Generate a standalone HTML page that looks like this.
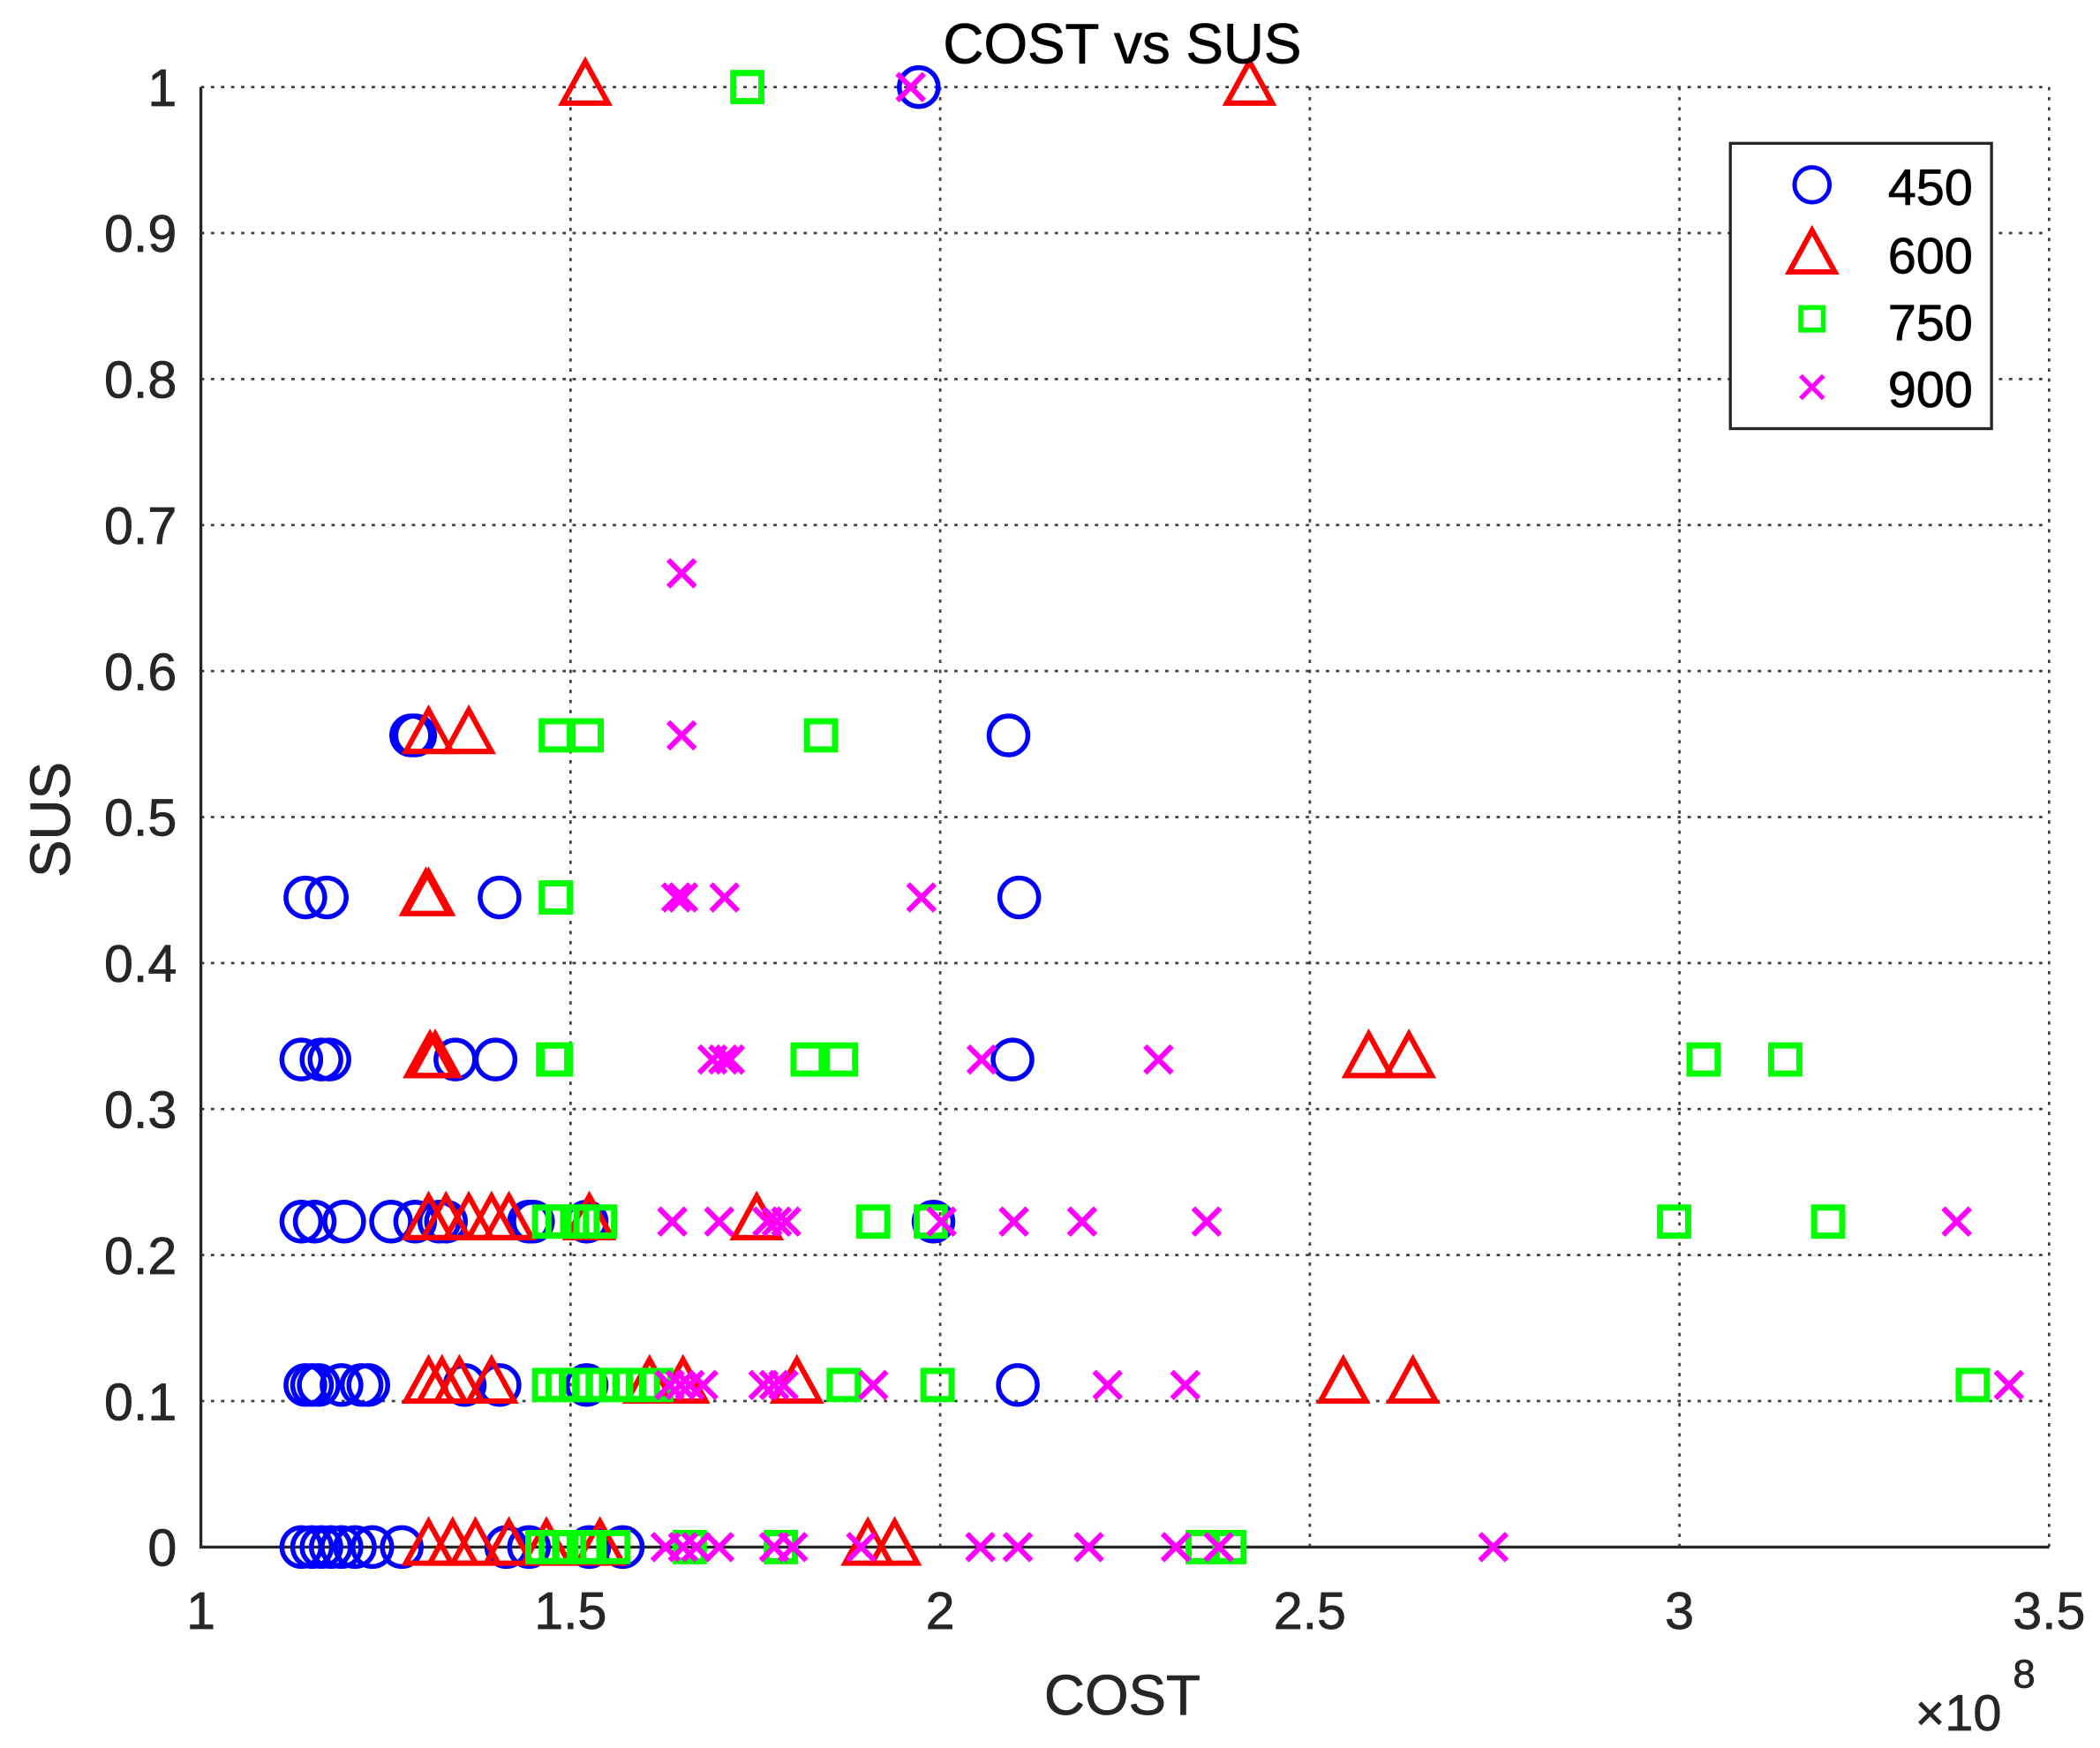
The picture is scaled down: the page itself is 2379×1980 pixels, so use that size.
<!DOCTYPE html>
<html><head><meta charset="utf-8"><style>html,body{margin:0;padding:0;background:#fff}svg{display:block}</style></head>
<body>
<svg width="2379" height="1980" viewBox="0 0 1568 1305" xmlns="http://www.w3.org/2000/svg" xmlns:xlink="http://www.w3.org/1999/xlink" font-family="Liberation Sans, Arial, sans-serif">
<defs>
<circle id="c" cx="0" cy="0" r="14.5" fill="none" stroke="#0000ff" stroke-width="3.6"/>
<path id="t" d="M0 -19 L17 12 L-17 12 Z" fill="none" stroke="#ff0000" stroke-width="4" stroke-linejoin="miter"/>
<rect id="s" x="-10.5" y="-10.5" width="21" height="21" fill="none" stroke="#00ff00" stroke-width="4.6"/>
<path id="x" d="M-10 -10 L10 10 M10 -10 L-10 10" stroke="#ff00ff" stroke-width="4"/>
</defs>
<rect width="1568" height="1305" fill="#fff"/>
<g stroke="#404040" stroke-width="1.8" stroke-dasharray="2.5,5" fill="none">
<line x1="426" y1="65" x2="426" y2="1155"/><line x1="702" y1="65" x2="702" y2="1155"/><line x1="978" y1="65" x2="978" y2="1155"/><line x1="1254" y1="65" x2="1254" y2="1155"/>
<line x1="150" y1="65" x2="1530" y2="65"/><line x1="1530" y1="65" x2="1530" y2="1155"/>
<line x1="150" y1="174" x2="1530" y2="174"/><line x1="150" y1="283" x2="1530" y2="283"/><line x1="150" y1="392" x2="1530" y2="392"/><line x1="150" y1="501" x2="1530" y2="501"/><line x1="150" y1="610" x2="1530" y2="610"/><line x1="150" y1="719" x2="1530" y2="719"/><line x1="150" y1="828" x2="1530" y2="828"/><line x1="150" y1="937" x2="1530" y2="937"/><line x1="150" y1="1046" x2="1530" y2="1046"/>
</g>
<path d="M150 65 V1155 H1530" stroke="#262626" stroke-width="2.2" fill="none"/>
<g>
<use xlink:href="#c" x="686" y="65"/>
<use xlink:href="#c" x="307" y="549"/><use xlink:href="#c" x="310" y="549"/><use xlink:href="#c" x="753" y="549"/>
<use xlink:href="#c" x="228" y="670"/><use xlink:href="#c" x="244" y="670"/><use xlink:href="#c" x="373" y="670"/><use xlink:href="#c" x="761" y="670"/>
<use xlink:href="#c" x="225" y="791"/><use xlink:href="#c" x="240" y="791"/><use xlink:href="#c" x="246" y="791"/><use xlink:href="#c" x="340" y="791"/><use xlink:href="#c" x="370" y="791"/><use xlink:href="#c" x="756" y="791"/>
<use xlink:href="#c" x="225" y="912"/><use xlink:href="#c" x="235" y="912"/><use xlink:href="#c" x="257" y="912"/><use xlink:href="#c" x="292" y="912"/><use xlink:href="#c" x="310" y="912"/><use xlink:href="#c" x="328" y="912"/><use xlink:href="#c" x="333" y="912"/><use xlink:href="#c" x="395" y="912"/><use xlink:href="#c" x="398" y="912"/><use xlink:href="#c" x="438" y="912"/><use xlink:href="#c" x="697" y="912"/>
<use xlink:href="#c" x="228" y="1034"/><use xlink:href="#c" x="233" y="1034"/><use xlink:href="#c" x="238" y="1034"/><use xlink:href="#c" x="255" y="1034"/><use xlink:href="#c" x="270" y="1034"/><use xlink:href="#c" x="275" y="1034"/><use xlink:href="#c" x="347" y="1034"/><use xlink:href="#c" x="373" y="1034"/><use xlink:href="#c" x="438" y="1034"/><use xlink:href="#c" x="760" y="1034"/>
<use xlink:href="#c" x="225" y="1155"/><use xlink:href="#c" x="233" y="1155"/><use xlink:href="#c" x="240" y="1155"/><use xlink:href="#c" x="247" y="1155"/><use xlink:href="#c" x="255" y="1155"/><use xlink:href="#c" x="265" y="1155"/><use xlink:href="#c" x="278" y="1155"/><use xlink:href="#c" x="300" y="1155"/><use xlink:href="#c" x="378" y="1155"/><use xlink:href="#c" x="395" y="1155"/><use xlink:href="#c" x="440" y="1155"/><use xlink:href="#c" x="465" y="1155"/>

<use xlink:href="#t" x="437" y="65"/><use xlink:href="#t" x="933" y="65"/>
<use xlink:href="#t" x="320" y="549"/><use xlink:href="#t" x="350" y="549"/>
<use xlink:href="#t" x="318" y="670"/><use xlink:href="#t" x="320" y="670"/>
<use xlink:href="#t" x="321" y="791"/><use xlink:href="#t" x="325" y="791"/><use xlink:href="#t" x="1022" y="791"/><use xlink:href="#t" x="1052" y="791"/>
<use xlink:href="#t" x="320" y="912"/><use xlink:href="#t" x="333" y="912"/><use xlink:href="#t" x="350" y="912"/><use xlink:href="#t" x="367" y="912"/><use xlink:href="#t" x="380" y="912"/><use xlink:href="#t" x="440" y="912"/><use xlink:href="#t" x="565" y="912"/>
<use xlink:href="#t" x="320" y="1034"/><use xlink:href="#t" x="330" y="1034"/><use xlink:href="#t" x="343" y="1034"/><use xlink:href="#t" x="367" y="1034"/><use xlink:href="#t" x="485" y="1034"/><use xlink:href="#t" x="510" y="1034"/><use xlink:href="#t" x="595" y="1034"/><use xlink:href="#t" x="1003" y="1034"/><use xlink:href="#t" x="1055" y="1034"/>
<use xlink:href="#t" x="320" y="1155"/><use xlink:href="#t" x="338" y="1155"/><use xlink:href="#t" x="355" y="1155"/><use xlink:href="#t" x="380" y="1155"/><use xlink:href="#t" x="408" y="1155"/><use xlink:href="#t" x="448" y="1155"/><use xlink:href="#t" x="648" y="1155"/><use xlink:href="#t" x="668" y="1155"/>

<use xlink:href="#s" x="558" y="65"/>
<use xlink:href="#s" x="415" y="549"/><use xlink:href="#s" x="438" y="549"/><use xlink:href="#s" x="613" y="549"/>
<use xlink:href="#s" x="415" y="670"/>
<use xlink:href="#s" x="413" y="791"/><use xlink:href="#s" x="415" y="791"/><use xlink:href="#s" x="603" y="791"/><use xlink:href="#s" x="628" y="791"/><use xlink:href="#s" x="1272" y="791"/><use xlink:href="#s" x="1333" y="791"/>
<use xlink:href="#s" x="410" y="912"/><use xlink:href="#s" x="420" y="912"/><use xlink:href="#s" x="435" y="912"/><use xlink:href="#s" x="448" y="912"/><use xlink:href="#s" x="652" y="912"/><use xlink:href="#s" x="695" y="912"/><use xlink:href="#s" x="1250" y="912"/><use xlink:href="#s" x="1365" y="912"/>
<use xlink:href="#s" x="410" y="1034"/><use xlink:href="#s" x="420" y="1034"/><use xlink:href="#s" x="430" y="1034"/><use xlink:href="#s" x="440" y="1034"/><use xlink:href="#s" x="450" y="1034"/><use xlink:href="#s" x="460" y="1034"/><use xlink:href="#s" x="470" y="1034"/><use xlink:href="#s" x="480" y="1034"/><use xlink:href="#s" x="490" y="1034"/><use xlink:href="#s" x="630" y="1034"/><use xlink:href="#s" x="700" y="1034"/><use xlink:href="#s" x="1473" y="1034"/>
<use xlink:href="#s" x="405" y="1155"/><use xlink:href="#s" x="415" y="1155"/><use xlink:href="#s" x="425" y="1155"/><use xlink:href="#s" x="440" y="1155"/><use xlink:href="#s" x="458" y="1155"/><use xlink:href="#s" x="515" y="1155"/><use xlink:href="#s" x="583" y="1155"/><use xlink:href="#s" x="898" y="1155"/><use xlink:href="#s" x="918" y="1155"/>

<use xlink:href="#x" x="680" y="65"/>
<use xlink:href="#x" x="509" y="428"/>
<use xlink:href="#x" x="509" y="549"/>
<use xlink:href="#x" x="505" y="670"/><use xlink:href="#x" x="510" y="670"/><use xlink:href="#x" x="541" y="670"/><use xlink:href="#x" x="688" y="670"/>
<use xlink:href="#x" x="532" y="791"/><use xlink:href="#x" x="540" y="791"/><use xlink:href="#x" x="545" y="791"/><use xlink:href="#x" x="733" y="791"/><use xlink:href="#x" x="865" y="791"/>
<use xlink:href="#x" x="502" y="912"/><use xlink:href="#x" x="537" y="912"/><use xlink:href="#x" x="573" y="912"/><use xlink:href="#x" x="580" y="912"/><use xlink:href="#x" x="587" y="912"/><use xlink:href="#x" x="703" y="912"/><use xlink:href="#x" x="757" y="912"/><use xlink:href="#x" x="808" y="912"/><use xlink:href="#x" x="901" y="912"/><use xlink:href="#x" x="1461" y="912"/>
<use xlink:href="#x" x="500" y="1034"/><use xlink:href="#x" x="508" y="1034"/><use xlink:href="#x" x="515" y="1034"/><use xlink:href="#x" x="525" y="1034"/><use xlink:href="#x" x="570" y="1034"/><use xlink:href="#x" x="578" y="1034"/><use xlink:href="#x" x="585" y="1034"/><use xlink:href="#x" x="652" y="1034"/><use xlink:href="#x" x="827" y="1034"/><use xlink:href="#x" x="885" y="1034"/><use xlink:href="#x" x="1500" y="1034"/>
<use xlink:href="#x" x="497" y="1155"/><use xlink:href="#x" x="510" y="1155"/><use xlink:href="#x" x="520" y="1155"/><use xlink:href="#x" x="537" y="1155"/><use xlink:href="#x" x="578" y="1155"/><use xlink:href="#x" x="592" y="1155"/><use xlink:href="#x" x="643" y="1155"/><use xlink:href="#x" x="732" y="1155"/><use xlink:href="#x" x="760" y="1155"/><use xlink:href="#x" x="813" y="1155"/><use xlink:href="#x" x="878" y="1155"/><use xlink:href="#x" x="910" y="1155"/><use xlink:href="#x" x="1115" y="1155"/>
</g>
<g fill="#262626" font-size="39" stroke="#262626" stroke-width="0.5">
<g text-anchor="end">
<text x="132" y="1169">0</text><text x="132" y="1060">0.1</text><text x="132" y="951">0.2</text><text x="132" y="842">0.3</text><text x="132" y="733">0.4</text><text x="132" y="624">0.5</text><text x="132" y="515">0.6</text><text x="132" y="406">0.7</text><text x="132" y="297">0.8</text><text x="132" y="188">0.9</text><text x="132" y="79">1</text>
</g>
<g text-anchor="middle">
<text x="150" y="1216">1</text><text x="426" y="1216">1.5</text><text x="702" y="1216">2</text><text x="978" y="1216">2.5</text><text x="1254" y="1216">3</text><text x="1530" y="1216">3.5</text>
<text x="838" y="1280" font-size="42">COST</text>
<text x="838" y="47" font-size="42" fill="#000" stroke="#000">COST vs SUS</text>
<text transform="translate(52,612) rotate(-90)" font-size="42">SUS</text>
</g>
<text x="1430" y="1292" font-size="38">×10</text><text x="1503" y="1260" font-size="30">8</text>
</g>
<rect x="1292" y="107" width="195" height="213" fill="#fff" stroke="#262626" stroke-width="2.2"/>
<use xlink:href="#c" x="1353" y="138" transform="translate(1353 138) scale(0.9) translate(-1353 -138)"/>
<use xlink:href="#t" x="1353" y="191"/>
<use xlink:href="#s" x="1353" y="238" transform="translate(1353 238) scale(0.8) translate(-1353 -238)"/>
<use xlink:href="#x" x="1353" y="289" transform="translate(1353 289) scale(0.85) translate(-1353 -289)"/>
<g font-size="38" text-anchor="end" fill="#000" stroke="#000" stroke-width="0.5">
<text x="1473" y="153">450</text><text x="1473" y="204">600</text><text x="1473" y="254">750</text><text x="1473" y="304">900</text>
</g>
</svg>
</body></html>
